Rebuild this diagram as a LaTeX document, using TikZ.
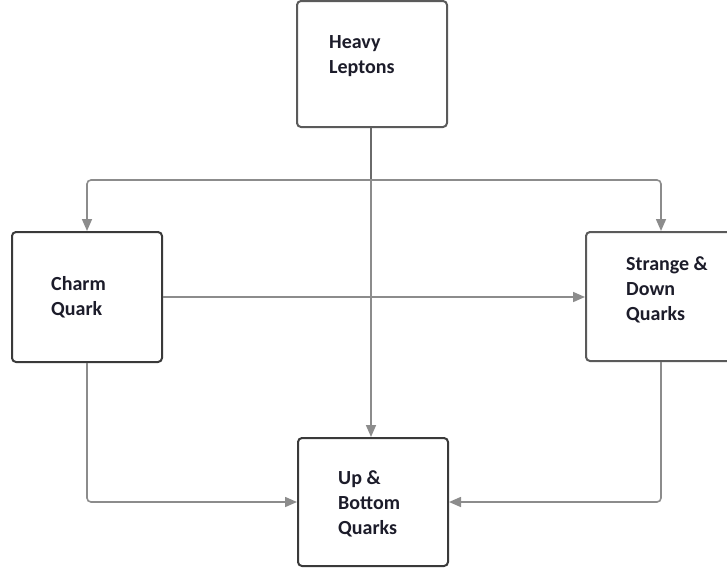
\documentclass[tikz,border=0pt]{standalone}
\usepackage{fontspec}
\setmainfont{Carlito}
\usetikzlibrary{arrows.meta}
\definecolor{boxdark}{HTML}{3A3A3A}
\definecolor{boxmid}{HTML}{5A5A5A}
\definecolor{conn}{HTML}{8C8C8C}
\definecolor{stub}{HTML}{6A6A6A}
\definecolor{txt}{HTML}{1C1C2A}
\tikzset{
  box/.style={draw=boxdark, line width=2pt, rounded corners=4pt, fill=white, minimum width=150pt, inner sep=0pt},
  lightbox/.style={box, draw=boxmid},
  label text/.style={font=\bfseries\fontsize{20}{25}\selectfont, text=txt, align=left, anchor=north west, inner sep=0pt},
  conline/.style={draw=conn, line width=1.6pt, rounded corners=4pt},
  arr/.style={conline, -{Triangle[length=12pt,width=10pt]}}
}
\begin{document}
\begin{tikzpicture}[x=1pt,y=-1pt]
\useasboundingbox (0,0) rectangle (727,573);
% boxes
\node[lightbox, minimum height=126pt] (hl) at (372,64) {};
\node[box, minimum height=130pt] (cq) at (87,297) {};
\node[lightbox, minimum height=129pt] (sd) at (661,296.5) {};
\node[box, minimum height=128pt] (ub) at (373,502) {};
% texts
\node[label text] (hlt) at (329,35) {Heavy\\Leptons};
\node[label text] (cqt) at (51,276) {Charm\\Quark};
\node[label text] (sdt) at (626,256) {Strange \&\\Down\\Quarks};
\node[label text] (ubt) at (338,470) {Up \&\\Bottom\\Quarks};
% connectors
\coordinate (j) at ([xshift=-1pt]hl.south |- 0,180);
\draw[draw=stub, line width=2pt] ([xshift=-1pt]hl.south) -- (j);
\draw[arr] (j) -| (cq.north);
\draw[arr] (j) -| (sd.north);
\draw[arr] (j) -- (j |- ub.north);
\draw[arr] (cq.east) -- (cq.east -| sd.west);
\draw[arr] (cq.south) |- (ub.west);
\draw[arr] (sd.south) |- (ub.east);
\end{tikzpicture}
\end{document}
